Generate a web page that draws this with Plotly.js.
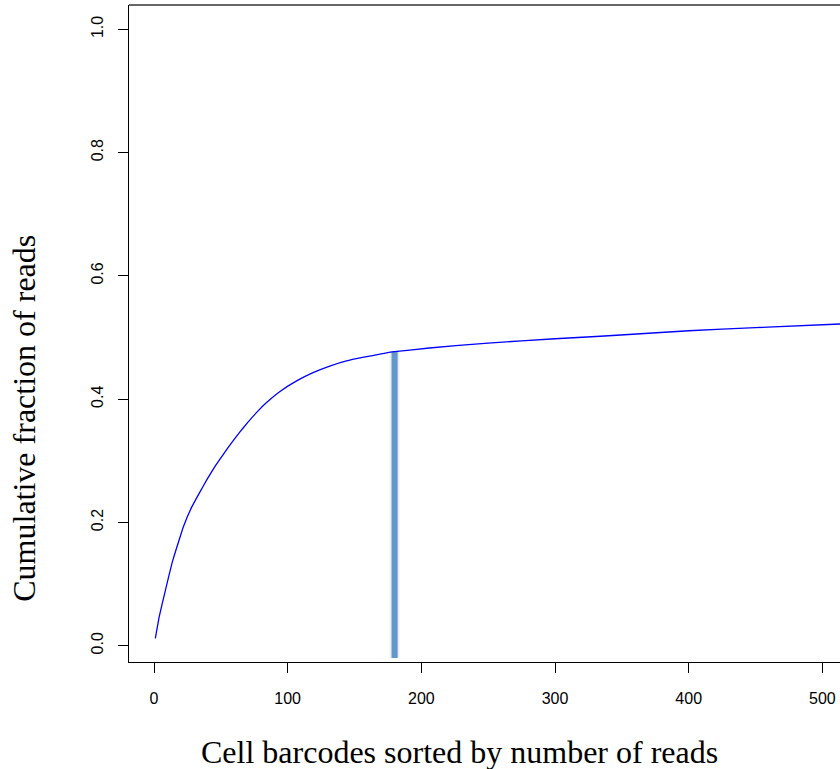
<!DOCTYPE html>
<html>
<head>
<meta charset="utf-8">
<script src="https://cdn.plot.ly/plotly-3.0.1.min.js"></script>
<style>html,body{margin:0;padding:0;background:#fff;}#chart{width:840px;height:769px;}</style>
</head>
<body>
<div id="chart"></div>
<script>
// Cumulative fraction of reads vs. cell barcode rank
const barcodeRank = [1, 4, 8, 14, 22, 28, 34, 40, 46, 52, 58, 64, 70, 77, 84, 94, 107, 119, 132, 144, 157, 170, 180, 206, 250, 300, 334, 400, 450, 514];
const cumFraction = [0.012, 0.048, 0.085, 0.138, 0.193, 0.224, 0.248, 0.271, 0.292, 0.311, 0.329, 0.346, 0.362, 0.379, 0.394, 0.412, 0.430, 0.443, 0.454, 0.462, 0.468, 0.4735, 0.477, 0.483, 0.491, 0.498, 0.502, 0.511, 0.516, 0.522];
// Cutoff marker
const cutoffX = [180, 180];
const cutoffY = [-0.02, 0.477];
// Tick labels
const xTickVals = [0, 100, 200, 300, 400, 500];
const xTickText = ["0", "100", "200", "300", "400", "500"];
const yTickVals = [0, 0.2, 0.4, 0.6, 0.8, 1.0];
const yTickText = ["0.0", "0.2", "0.4", "0.6", "0.8", "1.0"];
const xTitle = "Cell barcodes sorted by number of reads";
const yTitle = "Cumulative fraction of reads";

const traces = [
  {x: cutoffX, y: cutoffY, mode: 'lines', line: {color: 'rgba(0,0,0,0.05)', width: 10}, hoverinfo: 'skip', showlegend: false},
  {x: cutoffX, y: cutoffY, mode: 'lines', line: {color: 'rgba(0,0,0,0.06)', width: 8}, hoverinfo: 'skip', showlegend: false},
  {x: cutoffX, y: cutoffY, mode: 'lines', line: {color: '#6497c9', width: 6}, showlegend: false},
  {x: barcodeRank, y: cumFraction, mode: 'lines', line: {color: '#0000ff', width: 1.3, shape: 'spline', smoothing: 0.3}, showlegend: false}
];

const tickFont = {family: 'Liberation Sans, Arial, sans-serif', size: 16, color: '#000'};
const titleFont = {family: 'Liberation Serif, Times New Roman, serif', size: 32, color: '#000'};

const layout = {
  width: 840, height: 769,
  margin: {l: 129, r: 0, t: 5, b: 107},
  paper_bgcolor: '#fff', plot_bgcolor: '#fff',
  showlegend: false,
  xaxis: {
    range: [-18.7, 513.2], tickvals: xTickVals, ticktext: xTickText,
    ticks: 'outside', ticklen: 10, tickcolor: '#000', tickwidth: 1,
    showline: true, linecolor: '#000', linewidth: 1.2, showgrid: false, zeroline: false,
    tickfont: tickFont, ticklabelstandoff: 12
  },
  yaxis: {
    range: [-0.0264, 1.0394], tickvals: yTickVals, ticktext: yTickText,
    ticks: 'outside', ticklen: 10, tickcolor: '#000', tickwidth: 1, tickangle: -90,
    showline: true, linecolor: '#000', linewidth: 1.2, showgrid: false, zeroline: false,
    tickfont: tickFont, ticklabelstandoff: 8
  },
  shapes: [
    {type: 'line', xref: 'paper', yref: 'paper', x0: 0, x1: 1, y0: 1, y1: 1, line: {color: '#666', width: 2}}
  ],
  annotations: [
    {text: xTitle, xref: 'paper', yref: 'paper', x: 0.4655, y: -0.137, xanchor: 'center', yanchor: 'middle', showarrow: false, font: titleFont},
    {text: yTitle, xref: 'paper', yref: 'paper', x: -0.147, y: 0.371, xanchor: 'center', yanchor: 'middle', textangle: -90, showarrow: false, font: titleFont}
  ]
};

Plotly.newPlot('chart', traces, layout, {displayModeBar: false, staticPlot: true});
</script>
</body>
</html>
